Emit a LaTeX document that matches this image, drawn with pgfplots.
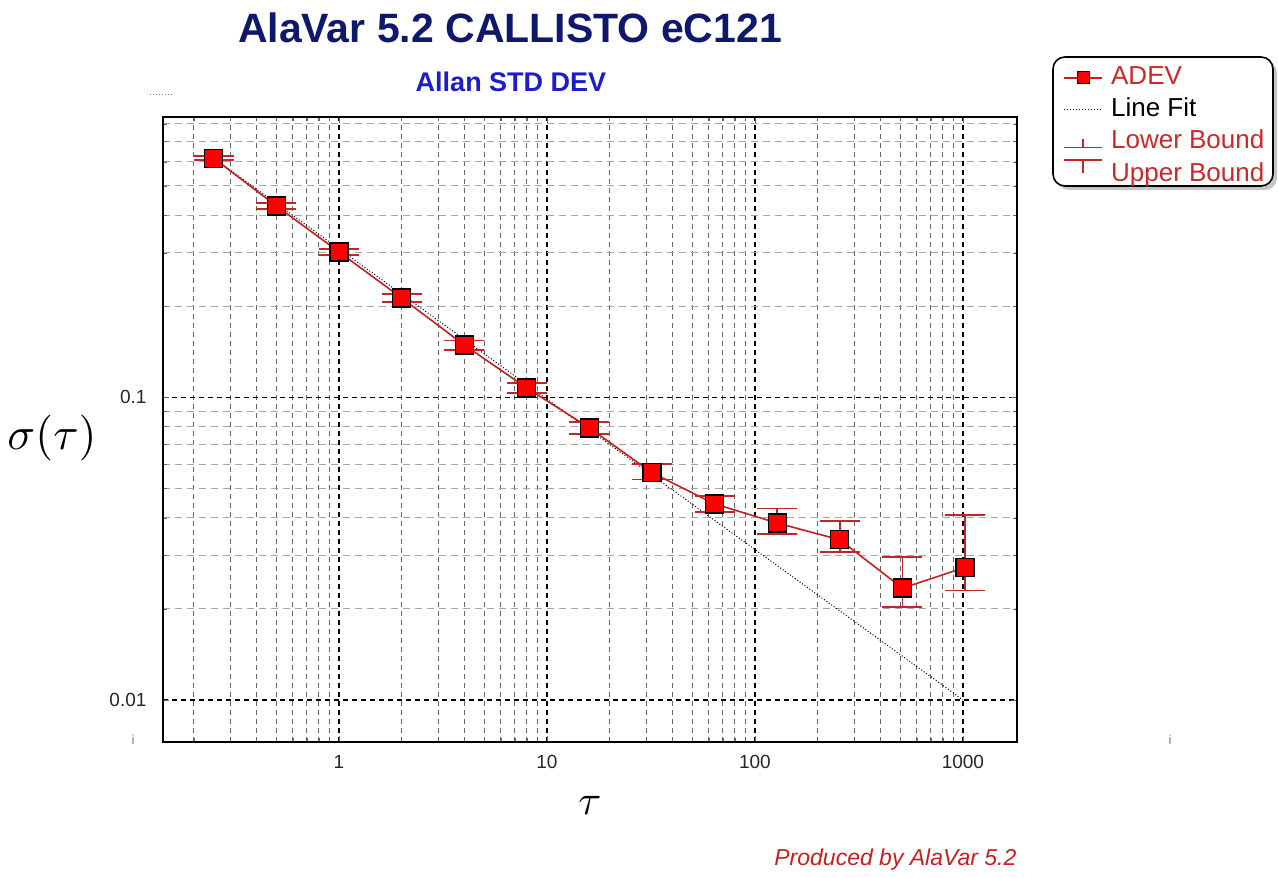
\documentclass[border=0pt]{standalone}
\usepackage{pgfplots}
\pgfplotsset{compat=1.18}
\usepackage{fontspec}
\setmainfont{Liberation Sans}
\usetikzlibrary{shadows}
\definecolor{titlenavy}{RGB}{16,24,110}
\definecolor{subblue}{RGB}{30,30,200}
\definecolor{advline}{RGB}{200,30,30}
\definecolor{errred}{RGB}{190,40,40}
\definecolor{legred}{RGB}{205,40,40}
\definecolor{prodred}{RGB}{200,30,30}
\begin{document}
\begin{tikzpicture}
\path (0pt,0pt) rectangle (1278pt,878pt);
\draw[rounded corners=12pt, line width=1.6pt, fill=white, drop shadow={shadow xshift=4pt, shadow yshift=-4pt, fill=black!45}] (1053pt,692pt) rectangle (1273pt,821pt);
\begin{axis}[
  at={(163pt,136pt)}, anchor=south west,
  width=854pt, height=625pt, scale only axis,
  xmode=log, ymode=log,
  xmin=0.1425, xmax=1820, ymin=0.00726, ymax=0.843,
  axis line style={line width=1.5pt},
  grid=both,
  major grid style={dash pattern=on 5pt off 4pt, black, line width=1.3pt},
  minor x grid style={dash pattern=on 5pt off 4pt, black!60, line width=0.9pt},
  minor y grid style={dash pattern=on 7pt off 5pt, black!35, line width=0.9pt},
  xtick={1,10,100,1000}, xticklabels={1,10,100,1000},
  ytick={0.01,0.1}, yticklabels={0.01,0.1},
  minor xtick={0.2,0.3,0.4,0.5,0.6,0.7,0.8,0.9,2,3,4,5,6,7,8,9,20,30,40,50,60,70,80,90,200,300,400,500,600,700,800,900},
  minor ytick={0.02,0.03,0.04,0.05,0.06,0.07,0.08,0.09,0.2,0.3,0.4,0.5,0.6,0.7,0.8},
  tick label style={font=\fontsize{19}{22}\selectfont, text=black!85},
  xticklabel style={yshift=-10pt},
  yticklabel style={xshift=-13pt},
  /pgf/number format/assume math mode=true,
  major tick length=6pt, minor tick length=4pt,
  tick style={black!60},
  legend style={at={(1.0504,1.0896)}, anchor=north west, draw=none, fill=none,
    font=\fontsize{26}{30}\selectfont, row sep=3pt,
    nodes={inner sep=2pt, text height=19pt, text depth=6pt}},
  legend cell align=left,
]
\addplot[forget plot, black, dotted, line width=1pt] coordinates {(0.25,0.616) (1000,0.01)};
\addplot[forget plot, color=advline, line width=1.6pt, mark=square*, mark size=9pt,
  mark options={fill=red, draw=black, line width=1.3pt, solid},
  error bars/.cd, y dir=both, y explicit, error mark=-,
  error bar style={color=errred, line width=1.8pt},
  error mark options={color=errred, line width=1.8pt, mark size=20pt, rotate=90}]
coordinates {
(0.25,0.616) += (0,0.009) -= (0,0.009)
(0.5,0.4285) += (0,0.0086) -= (0,0.0086)
(1,0.302) += (0,0.0075) -= (0,0.0075)
(2,0.2128) += (0,0.0064) -= (0,0.0064)
(4,0.1488) += (0,0.0052) -= (0,0.0052)
(8,0.1073) += (0,0.0043) -= (0,0.0043)
(16,0.0792) += (0,0.0037) -= (0,0.0036)
(32,0.0563) += (0,0.0039) -= (0,0.0028)
(64,0.0444) += (0,0.0028) -= (0,0.0026)
(128,0.0384) += (0,0.0045) -= (0,0.0031)
(256,0.0338) += (0,0.0052) -= (0,0.0030)
(512,0.0234) += (0,0.0063) -= (0,0.0031)
(1024,0.0274) += (0,0.0134) -= (0,0.0044)
};
\addlegendimage{legend image code/.code={\path[draw=none,fill=none] (0pt,-10pt) rectangle (45pt,10pt); \draw[draw=advline, line width=1.8pt] (0pt,0pt) -- (38pt,0pt); \draw[fill=red, draw=black, line width=1.2pt] (13pt,-6pt) rectangle (25pt,6pt);}}
\addlegendentry{\textcolor{legred}{ADEV}}
\addlegendimage{legend image code/.code={\path[draw=none,fill=none] (0pt,-10pt) rectangle (45pt,10pt); \draw[black, dotted, line width=1pt] (0pt,0pt) -- (38pt,0pt);}}
\addlegendentry{Line Fit}
\addlegendimage{legend image code/.code={\path[draw=none,fill=none] (0pt,-10pt) rectangle (45pt,10pt); \draw[draw=errred, line width=1.6pt] (0pt,-6pt) -- (38pt,-6pt) (19pt,-6pt) -- (19pt,3pt);}}
\addlegendentry{\textcolor{legred}{Lower Bound}}
\addlegendimage{legend image code/.code={\path[draw=none,fill=none] (0pt,-10pt) rectangle (45pt,10pt); \draw[draw=errred, line width=1.6pt] (0pt,15pt) -- (38pt,15pt) (19pt,15pt) -- (19pt,2pt);}}
\addlegendentry{\textcolor{legred}{Upper Bound}}
\end{axis}
\node[font=\fontsize{41}{46}\selectfont\bfseries, text=titlenavy] at (510pt,850pt) {AlaVar 5.2 CALLISTO eC121};
\node[font=\fontsize{27}{31}\selectfont\bfseries, text=subblue] at (511pt,796pt) {Allan STD DEV};
\node[font=\fontsize{23}{27}\selectfont\itshape, text=prodred, anchor=east] at (1020pt,18pt) {Produced by AlaVar 5.2};
\node[scale=4.6, inner sep=0pt] at (52pt,440pt) {$\sigma(\tau)$};
\node[scale=4.2, inner sep=0pt] at (590pt,73pt) {$\tau$};
\draw[gray, dotted, line width=1pt] (150pt,783pt) -- (172pt,783pt);
\node[font=\fontsize{13}{15}\selectfont, text=gray] at (133pt,138pt) {i};
\node[font=\fontsize{13}{15}\selectfont, text=gray] at (1170pt,138pt) {i};
\end{tikzpicture}
\end{document}
